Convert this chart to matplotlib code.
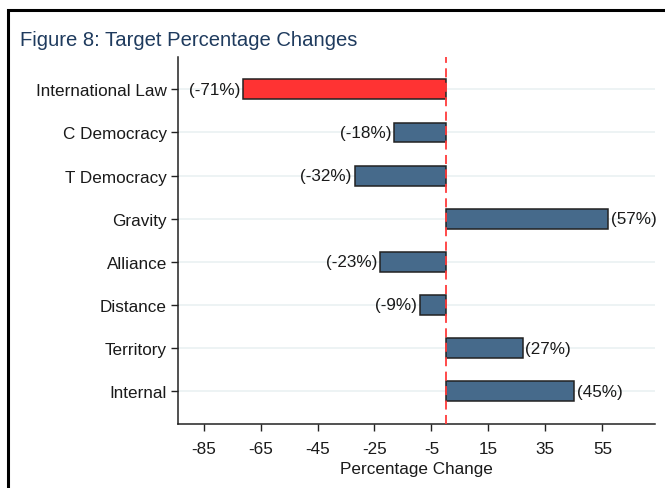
import matplotlib
matplotlib.use("Agg")
import matplotlib.pyplot as plt
from matplotlib.patches import Rectangle

categories = ["International Law", "C Democracy", "T Democracy", "Gravity",
              "Alliance", "Distance", "Territory", "Internal"]
values = [-71, -18, -32, 57, -23, -9, 27, 45]
bar_colors = ["#ff3333"] + ["#466a8b"] * 7
xticks = [-85, -65, -45, -25, -5, 15, 35, 55]

plt.rcParams['font.family'] = ['Liberation Sans', 'DejaVu Sans']
FS = 12.3

fig = plt.figure(figsize=(6.65, 4.89), dpi=100)
W, H = 665, 489
ax = fig.add_axes([178 / W, (H - 425) / H, (655 - 178) / W, (425 - 58) / H])

ypos = list(range(len(categories)))[::-1]
for y in ypos:
    ax.axhline(y, color="#eaf1f2", lw=1.2, zorder=0)
ax.barh(ypos, values, height=0.46, color=bar_colors, edgecolor="#222222",
        linewidth=1.1, zorder=2)
ax.axvline(0, color="#ff3b3b", lw=1.3, dashes=(5, 3), zorder=3)

for y, v in zip(ypos, values):
    txt = f"({v}%)"
    if v < 0:
        ax.text(v - 1.0, y, txt, ha="right", va="center", fontsize=FS, color="#1a1a1a")
    else:
        ax.text(v + 1.0, y, txt, ha="left", va="center", fontsize=FS, color="#1a1a1a")

ax.set_xlim(-94, 73.5)
ax.set_ylim(-0.76, 7.75)
ax.set_yticks(ypos)
ax.set_yticklabels(categories, fontsize=FS, color="#1a1a1a")
ax.set_xticks(xticks)
ax.set_xticklabels([str(t) for t in xticks], fontsize=FS, color="#1a1a1a")
ax.set_xlabel("Percentage Change", fontsize=FS, color="#1a1a1a", labelpad=4)
ax.tick_params(axis="y", length=5, width=1, pad=3, color="#222222")
ax.tick_params(axis="x", length=5, width=1, pad=7, color="#222222")
for s in ["top", "right"]:
    ax.spines[s].set_visible(False)
for s in ["left", "bottom"]:
    ax.spines[s].set_color("#222222")
    ax.spines[s].set_linewidth(1.1)

fig.text(20 / W, 1 - 40 / H, "Figure 8: Target Percentage Changes", fontsize=14.6,
         color="#1f3b5e", ha="left", va="center")

fig.patches.append(Rectangle((8 / W, -0.1), 1.2, (H - 11) / H + 0.1,
                             transform=fig.transFigure, fill=False,
                             edgecolor="black", lw=2.2, clip_on=False))

fig.savefig("out.png", dpi=100)
